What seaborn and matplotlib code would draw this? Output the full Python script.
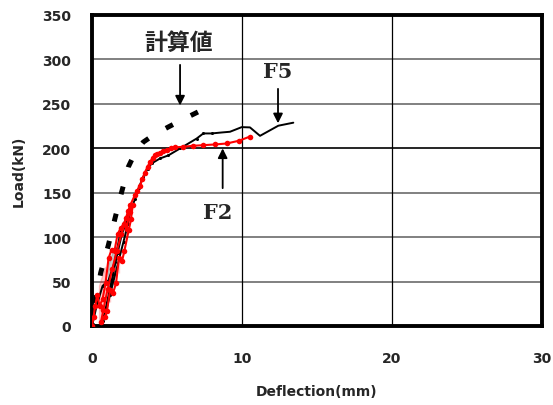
import numpy as np
import pandas as pd
import matplotlib
matplotlib.use("Agg")
import matplotlib.pyplot as plt
import seaborn as sns
from matplotlib.ticker import MultipleLocator

# ---- data ----
f2_x = [0.0, 0.1, 0.2, 0.35, 0.5, 0.7, 0.9, 1.1, 1.3, 1.5, 1.7, 1.9, 2.1, 2.3, 2.5, 2.7,
        2.6, 2.45, 2.3, 2.15, 2.0, 1.8, 1.6, 1.4, 1.2, 1.0, 0.85, 0.7, 0.6, 0.5,
        0.6, 0.75, 0.9, 1.05, 1.2, 1.35, 1.5, 1.65, 1.8, 1.95, 2.1, 2.25, 2.4, 2.55, 2.7,
        2.85, 3.0, 3.2, 3.35, 3.5, 3.7, 3.87, 4.05, 4.2, 4.35, 4.53, 4.75, 4.98, 5.25, 5.53,
        6.09, 6.75, 7.42, 8.2, 8.98, 9.8, 10.5]
f2_y = [0, 10, 22, 35, 45, 56, 66, 76, 86, 95, 103, 110, 117, 123, 128, 131,
        120, 108, 96, 84, 73, 60, 48, 37, 27, 17, 10, 4, 1, 0,
        8, 18, 30, 42, 53, 64, 74, 84, 93, 103, 112, 121, 129, 136, 142,
        147, 152, 158, 165, 172, 179, 185, 189, 192, 194, 195, 197, 198, 200, 201,
        201.7, 202.8, 203.5, 204.3, 205.4, 208.5, 213]

f5_x = [0.0, 0.3, 0.7, 1.1, 1.5, 1.9, 2.3, 2.6,
        2.4, 2.1, 1.8, 1.5, 1.2, 0.95, 0.75, 0.65,
        0.85, 1.1, 1.4, 1.7, 2.0, 2.3, 2.6, 2.87, 3.1, 3.42, 3.7, 3.98, 4.53, 5.09, 5.87,
        6.98, 7.42, 7.98, 8.65, 9.2, 9.98, 10.53, 11.2, 12.42, 13.42]
f5_y = [0, 22, 45, 68, 88, 106, 122, 134,
        115, 95, 75, 55, 35, 18, 6, 0,
        15, 35, 58, 82, 104, 122, 133, 143, 155, 168, 177, 183, 188.5, 192, 199.8,
        211, 216.7, 216.7, 217.8, 218.6, 223.8, 223.5, 214, 225.4, 228.8]

calc_x = [0.0, 0.3, 0.58, 1.09, 1.53, 1.98, 2.42, 2.9, 3.42, 4.2, 5.09, 6.0, 7.2]
calc_y = [0, 35, 60, 91, 121, 151, 179, 196, 207, 216, 224, 232, 242]

x_ticks = [0, 10, 20, 30]
y_ticks = [0, 50, 100, 150, 200, 250, 300, 350]

# ---- figure ----
sns.set_style("white")
plt.rcParams['font.family'] = ['DejaVu Sans']

fig = plt.figure(figsize=(5.53, 4.06), dpi=100)
ax = fig.add_axes([0.1664, 0.1946, 0.8137, 0.766])

df2 = pd.DataFrame({"x": f2_x, "y": f2_y})
df5 = pd.DataFrame({"x": f5_x, "y": f5_y})
dfc = pd.DataFrame({"x": calc_x, "y": calc_y})

# grid
for yv in [50, 100, 150, 250, 300]:
    ax.axhline(yv, color="#808080", lw=1.4, zorder=0)
ax.axhline(200, color="black", lw=1.2, zorder=0)
for xv in [10, 20]:
    ax.axvline(xv, color="black", lw=0.9, zorder=0)

sns.lineplot(data=dfc, x="x", y="y", sort=False, ax=ax, color="black",
             lw=3.6, linestyle=(1, (1.6, 4.0)), zorder=3)
sns.lineplot(data=df5, x="x", y="y", sort=False, ax=ax, color="black",
             lw=1.4, marker="o", markersize=2.2, markevery=list(range(0, 30)),
             markeredgewidth=0, zorder=4)
sns.lineplot(data=df2, x="x", y="y", sort=False, ax=ax, color="#ff0000",
             lw=1.5, marker="o", markersize=4, markeredgewidth=0, zorder=5)

ax.set_xlim(0, 30)
ax.set_ylim(0, 350)
ax.set_xticks(x_ticks)
ax.set_yticks(y_ticks)
ax.xaxis.set_minor_locator(MultipleLocator(5))
ax.yaxis.set_minor_locator(MultipleLocator(25))
ax.tick_params(axis="both", which="both", direction="in", color="black")
ax.tick_params(axis="both", which="major", length=4, width=2.5)
ax.tick_params(axis="both", which="minor", length=3, width=2)
ax.tick_params(axis="y", which="major", pad=15)
ax.tick_params(axis="x", which="major", pad=18)
for lab in ax.get_xticklabels() + ax.get_yticklabels():
    lab.set_fontweight("bold")
    lab.set_fontsize(10)

for sp in ax.spines.values():
    sp.set_visible(True)
    sp.set_color("black")
    sp.set_linewidth(2.8)

ax.set_xlabel("Deflection(mm)", fontsize=10, fontweight="bold", labelpad=14)
ax.set_ylabel("Load(kN)", fontsize=10, fontweight="bold", labelpad=12)

# annotations
arrow = dict(arrowstyle="-|>", color="black", lw=1.3, mutation_scale=14)
ax.text(5.8, 319, "計算値", fontsize=16.5, fontweight="bold",
        family=["Noto Sans CJK JP", "DejaVu Sans"], ha="center", va="center")
ax.annotate("", xy=(5.87, 245), xytext=(5.87, 297), arrowprops=arrow)

ax.text(12.4, 287, "F5", fontsize=15, fontweight="bold",
        family=["DejaVu Serif"], ha="center", va="center")
ax.annotate("", xy=(12.4, 225), xytext=(12.4, 270), arrowprops=arrow)

ax.text(8.4, 128, "F2", fontsize=15, fontweight="bold",
        family=["DejaVu Serif"], ha="center", va="center")
ax.annotate("", xy=(8.71, 203), xytext=(8.71, 152), arrowprops=arrow)

fig.savefig("out.png", dpi=100)
